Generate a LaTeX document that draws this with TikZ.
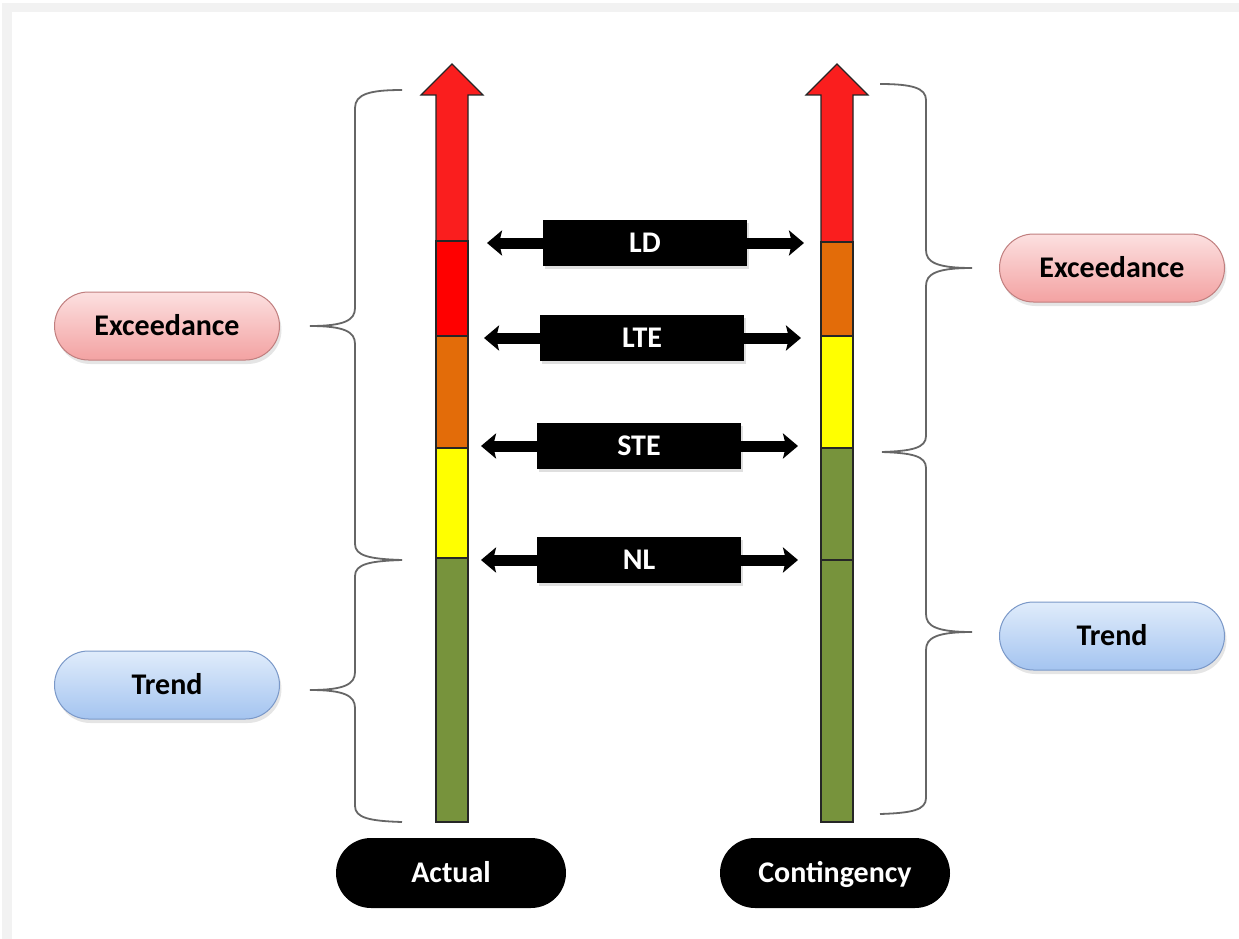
\documentclass[tikz,border=0pt]{standalone}
\usepackage{fontspec}
\setmainfont{Carlito}
\usetikzlibrary{shapes.misc,arrows.meta,shadows}
\definecolor{topred}{RGB}{250,30,30}
\definecolor{levred}{RGB}{255,0,0}
\definecolor{levorange}{RGB}{227,108,9}
\definecolor{levyellow}{RGB}{255,255,0}
\definecolor{levgreen}{RGB}{119,147,60}
\definecolor{framegray}{RGB}{242,242,242}
\definecolor{pinktop}{RGB}{252,224,224}
\definecolor{pinkbot}{RGB}{243,162,162}
\definecolor{pinkline}{RGB}{192,126,126}
\definecolor{bluetop}{RGB}{224,236,251}
\definecolor{bluebot}{RGB}{164,196,240}
\definecolor{blueline}{RGB}{122,152,200}
\begin{document}
\begin{tikzpicture}[x=1pt, y=-1pt,
    every node/.style={font=\fontsize{30}{33}\selectfont\bfseries, text height=19pt, text depth=0pt},
    seg/.style={draw=black!85, line width=1.2pt},
    tag/.style={fill=black, text=white, minimum width=204pt, minimum height=46pt, inner sep=0pt,
        drop shadow={opacity=0.25, shadow xshift=2pt, shadow yshift=-3pt}},
    pill/.style={rounded rectangle, minimum width=225pt, minimum height=68pt, inner sep=0pt, line width=1pt,
        drop shadow={opacity=0.2, shadow xshift=2pt, shadow yshift=-4pt}},
    redpill/.style={pill, draw=pinkline, top color=pinktop, bottom color=pinkbot},
    bluepill/.style={pill, draw=blueline, top color=bluetop, bottom color=bluebot},
    namepill/.style={rounded rectangle, fill=black, text=white, minimum width=230pt, minimum height=70pt, inner sep=0pt},
    dblarrow/.style={line width=11pt, -{Stealth[length=15pt, width=25pt, inset=3pt]}},
    brace/.style={draw=black!60, line width=1.8pt}]
        % Frame
        \fill[white] (0,0) rectangle (1239,939);
        \fill[framegray] (2,3) rectangle (1239,12);
        \fill[framegray] (2,3) rectangle (12,939);

        % Actual bar
        \filldraw[seg, fill=topred] (436,241) -- (436,95) -- (421,95) -- (452,64) -- (483,95) -- (468,95) -- (468,241) -- cycle;
        \filldraw[seg, fill=levred] (436,241) rectangle (468,336);
        \filldraw[seg, fill=levorange] (436,336) rectangle (468,448);
        \filldraw[seg, fill=levyellow] (436,448) rectangle (468,558);
        \filldraw[seg, fill=levgreen] (436,558) rectangle (468,822);

        % Contingency bar
        \filldraw[seg, fill=topred] (821,242) -- (821,95) -- (806,95) -- (837,64) -- (868,95) -- (853,95) -- (853,242) -- cycle;
        \filldraw[seg, fill=levorange] (821,242) rectangle (853,336);
        \filldraw[seg, fill=levyellow] (821,336) rectangle (853,448);
        \filldraw[seg, fill=levgreen] (821,448) rectangle (853,560);
        \filldraw[seg, fill=levgreen] (821,560) rectangle (853,822);

        % Level tags
        \node[tag] (ld) at (645,243) {LD};
        \node[tag] (lte) at (642,338) {LTE};
        \node[tag] (ste) at (639,446) {STE};
        \node[tag] (nl) at (639,560) {NL};

        % Arrow ends
        \coordinate (ldL) at (487,243);
        \coordinate (ldR) at (804,243);
        \coordinate (lteL) at (484,338);
        \coordinate (lteR) at (801,338);
        \coordinate (steL) at (481,446);
        \coordinate (steR) at (798,446);
        \coordinate (nlL) at (481,560);
        \coordinate (nlR) at (798,560);

        % Level arrows
        \draw[dblarrow] (ld.west) -- (ldL);
        \draw[dblarrow] (ld.east) -- (ldR);
        \draw[dblarrow] (lte.west) -- (lteL);
        \draw[dblarrow] (lte.east) -- (lteR);
        \draw[dblarrow] (ste.west) -- (steL);
        \draw[dblarrow] (ste.east) -- (steR);
        \draw[dblarrow] (nl.west) -- (nlL);
        \draw[dblarrow] (nl.east) -- (nlR);

        % Braces left
        \draw[brace] (402,90) .. controls (370,90) and (355,94) .. (355,108) -- (355,308)
            .. controls (355,320) and (345,326) .. (310,326)
            .. controls (345,326) and (355,332) .. (355,344) -- (355,544)
            .. controls (355,556) and (370,559) .. (402,560);
        \draw[brace] (402,560) .. controls (370,561) and (355,564) .. (355,576) -- (355,672)
            .. controls (355,684) and (345,690) .. (310,690)
            .. controls (345,690) and (355,696) .. (355,708) -- (355,806)
            .. controls (355,818) and (370,821) .. (402,822);

        % Braces right
        \draw[brace] (880,84) .. controls (912,84) and (926,88) .. (926,100) -- (926,250)
            .. controls (926,262) and (936,268) .. (972,268)
            .. controls (936,268) and (926,274) .. (926,286) -- (926,436)
            .. controls (926,448) and (912,451) .. (882,452);
        \draw[brace] (882,452) .. controls (912,453) and (926,456) .. (926,468) -- (926,614)
            .. controls (926,626) and (936,632) .. (972,632)
            .. controls (936,632) and (926,638) .. (926,650) -- (926,798)
            .. controls (926,810) and (912,813) .. (880,814);

        % Group labels
        \node[redpill] (excL) at (167,326) {Exceedance};
        \node[bluepill] (trendL) at (167,685) {Trend};
        \node[redpill] (excR) at (1112,268) {Exceedance};
        \node[bluepill] (trendR) at (1112,636) {Trend};

        % Bar names
        \node[namepill] (actual) at (451,873) {Actual};
        \node[namepill] (contingency) at (835,873) {Contingency};
    \end{tikzpicture}
\end{document}
